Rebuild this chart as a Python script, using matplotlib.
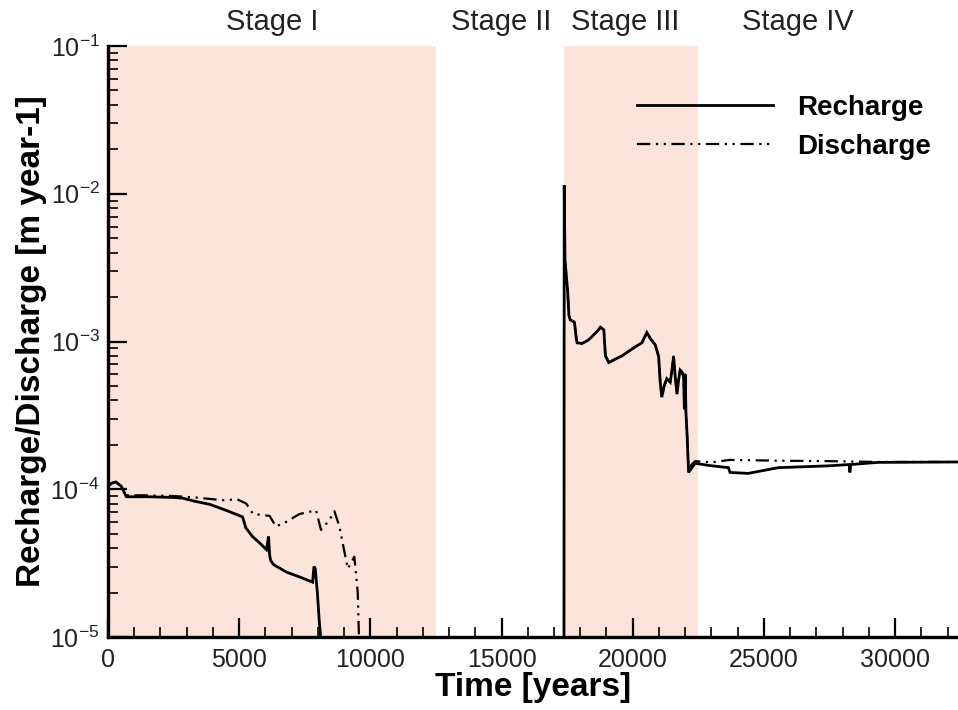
import numpy as np
import matplotlib
matplotlib.use("Agg")
import matplotlib.pyplot as plt
from matplotlib.ticker import MultipleLocator, LogLocator, LogFormatterSciNotation, NullFormatter

plt.rcParams['font.family'] = ['Liberation Sans', 'DejaVu Sans']
plt.rcParams['mathtext.default'] = 'regular'
plt.rcParams['axes.unicode_minus'] = False

# ---------------- data ----------------
stage_names = ["Stage I", "Stage II", "Stage III", "Stage IV"]
stage_label_x = [6250, 15000, 19700, 26300]
shaded_spans = [(0, 12500), (17400, 22500)]

# Stage I
rec1_t = [0, 150, 300, 500, 700, 1500, 2500, 2850, 3300, 3880, 4500, 5130, 5250, 5500,
          5800, 6040, 6120, 6160, 6200, 6300, 6800, 7300, 7800, 7850, 7900, 7980, 8050, 8150]
rec1_v = [1.05e-4, 1.1e-4, 1.12e-4, 1.05e-4, 8.9e-5, 8.9e-5, 8.8e-5, 8.7e-5, 8.3e-5, 7.9e-5,
          7.2e-5, 6.5e-5, 5.5e-5, 4.8e-5, 4.3e-5, 3.9e-5, 4.8e-5, 3.6e-5, 3.3e-5, 3.1e-5,
          2.75e-5, 2.55e-5, 2.35e-5, 3.0e-5, 2.9e-5, 2.0e-5, 1.3e-5, 8e-6]
dis1_t = [0, 150, 300, 500, 700, 1500, 2500, 3300, 3880, 4510, 4890, 5270, 5530, 6160, 6400,
          6780, 7300, 7930, 8120, 8440, 8630, 8820, 9140, 9390, 9520, 9580]
dis1_v = [1.05e-4, 1.1e-4, 1.12e-4, 1.05e-4, 9.1e-5, 9.1e-5, 9.0e-5, 8.8e-5, 8.6e-5, 8.4e-5,
          8.6e-5, 8.0e-5, 6.8e-5, 6.6e-5, 5.6e-5, 6.0e-5, 6.8e-5, 7.2e-5, 5.3e-5, 6.2e-5,
          7.1e-5, 5.6e-5, 2.9e-5, 3.5e-5, 2.0e-5, 8e-6]

# Stage III / IV
rec3_t = [17380, 17390, 17420, 17470, 17520, 17570, 17620, 17690, 17780, 17850, 17880, 18070,
          18300, 18450, 18700, 18770, 18900, 18960, 19090, 19340, 19600, 19850, 20100, 20350,
          20540, 20670, 20860, 20990, 21050, 21110, 21200, 21300, 21430, 21500, 21560, 21620,
          21690, 21750, 21810, 21880, 21940, 21970, 22000, 22030, 22070, 22130, 22380, 22890,
          23650, 23710, 24400, 25550, 27450, 28250, 28280, 28310, 29350, 32400]
rec3_v = [5e-6, 1.14e-2, 3.5e-3, 2.8e-3, 2.2e-3, 1.5e-3, 1.4e-3, 1.38e-3, 1.35e-3, 1.05e-3,
          9.8e-4, 9.7e-4, 1.02e-3, 1.08e-3, 1.2e-3, 1.25e-3, 1.2e-3, 8.0e-4, 7.2e-4, 7.6e-4,
          8.0e-4, 8.6e-4, 9.2e-4, 9.8e-4, 1.15e-3, 1.05e-3, 9.5e-4, 7.9e-4, 5.3e-4, 4.2e-4,
          5.0e-4, 5.6e-4, 5.3e-4, 6.5e-4, 7.9e-4, 5.8e-4, 4.4e-4, 5.5e-4, 6.4e-4, 6.2e-4,
          5.8e-4, 3.5e-4, 6.0e-4, 3.3e-4, 2.4e-4, 1.3e-4, 1.5e-4, 1.45e-4, 1.4e-4, 1.3e-4,
          1.28e-4, 1.4e-4, 1.44e-4, 1.47e-4, 1.3e-4, 1.47e-4, 1.52e-4, 1.53e-4]
dis3_t = [17420, 17470, 17520, 17570, 17620, 17690, 17780, 17850, 17880, 18070, 18300, 18450,
          18700, 18770, 18900, 18960, 19090, 19340, 19600, 19850, 20100, 20350, 20540, 20670,
          20860, 20990, 21050, 21110, 21200, 21300, 21430, 21500, 21560, 21620, 21690, 21750,
          21810, 21880, 21940, 21970, 22000, 22030, 22070, 22130, 22380, 23000, 23700, 25550,
          27450, 29350, 32400]
dis3_v = [3.5e-3, 2.8e-3, 2.2e-3, 1.5e-3, 1.4e-3, 1.38e-3, 1.35e-3, 1.05e-3, 9.8e-4, 9.7e-4,
          1.02e-3, 1.08e-3, 1.2e-3, 1.25e-3, 1.2e-3, 8.0e-4, 7.2e-4, 7.6e-4, 8.0e-4, 8.6e-4,
          9.2e-4, 9.8e-4, 1.15e-3, 1.05e-3, 9.5e-4, 7.9e-4, 5.3e-4, 4.2e-4, 5.0e-4, 5.6e-4,
          5.3e-4, 6.5e-4, 7.9e-4, 5.8e-4, 4.4e-4, 5.5e-4, 6.4e-4, 6.2e-4, 5.8e-4, 3.5e-4,
          6.0e-4, 3.3e-4, 2.4e-4, 1.4e-4, 1.55e-4, 1.52e-4, 1.58e-4, 1.56e-4, 1.55e-4, 1.53e-4,
          1.53e-4]

xlim = (0, 32400)
ylim = (1e-5, 1e-1)

# ---------------- figure ----------------
fig = plt.figure(figsize=(9.58, 7.10), dpi=100)
W, H = 958, 710
ax = fig.add_axes([108 / W, (H - 637) / H, (W - 108) / W, (637 - 46) / H])

for a, b in shaded_spans:
    ax.axvspan(a, b, color='#fbe4da', lw=0, zorder=0)

ax.plot(rec1_t, rec1_v, color='black', lw=2.0, solid_joinstyle='miter', zorder=3, label='Recharge')
ax.plot(rec3_t, rec3_v, color='black', lw=2.0, solid_joinstyle='miter', zorder=3)
dd = (6, 2.5, 1, 2.5, 1, 2.5)
ax.plot(dis1_t, dis1_v, color='black', lw=1.6, dashes=dd, zorder=2, label='Discharge')
ax.plot(dis3_t, dis3_v, color='black', lw=1.6, dashes=dd, zorder=2)

ax.set_yscale('log')
ax.set_xlim(*xlim)
ax.set_ylim(*ylim)

ax.xaxis.set_major_locator(MultipleLocator(5000))
ax.xaxis.set_minor_locator(MultipleLocator(1000))
ax.yaxis.set_major_locator(LogLocator(base=10, numticks=10))
ax.yaxis.set_minor_locator(LogLocator(base=10, subs=np.arange(2, 10), numticks=20))
ax.yaxis.set_major_formatter(LogFormatterSciNotation())
ax.yaxis.set_minor_formatter(NullFormatter())

ax.tick_params(axis='both', which='major', direction='in', length=14, width=1.6,
               labelsize=18, pad=6, colors='black')
ax.tick_params(axis='both', which='minor', direction='in', length=7, width=1.2)
ax.tick_params(axis='x', which='major', pad=8)
ax.tick_params(axis='y', which='major', labelcolor='#222222')
ax.tick_params(axis='x', which='major', labelcolor='#222222')

for s in ['top', 'right']:
    ax.spines[s].set_visible(False)
for s in ['left', 'bottom']:
    ax.spines[s].set_linewidth(2.4)

ax.set_xlabel('Time [years]', fontsize=24, fontweight='bold', labelpad=0)
ax.set_ylabel('Recharge/Discharge [m year-1]', fontsize=24, fontweight='bold', labelpad=2)

tr = ax.get_xaxis_transform()
for name, x in zip(stage_names, stage_label_x):
    ax.text(x, 1.04, name, transform=tr, ha='center', va='center', fontsize=21, color='#222222')

leg = ax.legend(loc='upper left', bbox_to_anchor=(637 / W, 1 - 95 / H),
                bbox_transform=fig.transFigure, frameon=False,
                handlelength=4.9, handletextpad=0.85, labelspacing=0.45, borderpad=0,
                borderaxespad=0, prop={'weight': 'bold', 'size': 20})

fig.savefig('out.png', dpi=100)
